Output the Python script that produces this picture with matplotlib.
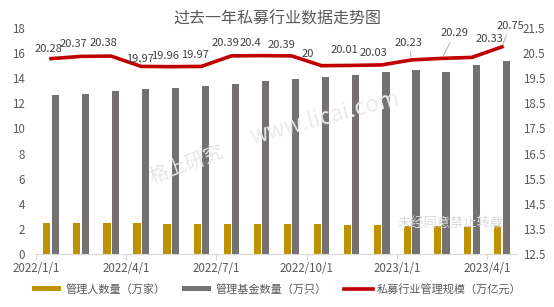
import matplotlib
matplotlib.use("Agg")
import matplotlib.pyplot as plt
from matplotlib.patches import Patch
from matplotlib.lines import Line2D

plt.rcParams['font.family'] = ['Noto Sans CJK SC', 'DejaVu Sans']

months = ["2022/1", "2022/2", "2022/3", "2022/4", "2022/5", "2022/6", "2022/7", "2022/8",
          "2022/9", "2022/10", "2022/11", "2022/12", "2023/1", "2023/2", "2023/3", "2023/4"]
tick_labels = ["2022/1/1", "2022/4/1", "2022/7/1", "2022/10/1", "2023/1/1", "2023/4/1"]
managers = [2.47, 2.46, 2.46, 2.45, 2.40, 2.40, 2.40, 2.39,
            2.38, 2.38, 2.31, 2.30, 2.24, 2.23, 2.23, 2.22]
funds = [12.67, 12.75, 13.00, 13.15, 13.23, 13.39, 13.55, 13.80,
         13.97, 14.10, 14.26, 14.53, 14.66, 14.50, 15.06, 15.38]
scale = [20.28, 20.37, 20.38, 19.97, 19.96, 19.97, 20.39, 20.4,
         20.39, 20.0, 20.01, 20.03, 20.23, 20.29, 20.33, 20.75]
scale_labels = ["20.28", "20.37", "20.38", "19.97", "19.96", "19.97", "20.39", "20.4",
                "20.39", "20", "20.01", "20.03", "20.23", "20.29", "20.33", "20.75"]

# label offsets in pixels (dx, dy) and whether a leader line is drawn
label_offsets = [(-3, 10), (-8, 12), (-8, 13), (-1, 7), (-6, 11), (-6, 11), (-6, 13), (-11, 13),
                 (-10, 11), (-14, 12), (-7, 15), (-8, 12), (-3, 17), (13, 25), (18, 18), (8, 21)]
leaders = [False, False, False, True, False, False, False, False,
           False, False, False, False, True, True, False, True]

GOLD = "#BF9000"
GRAY = "#767171"
RED = "#C00000"
TXT = "#595959"

fig = plt.figure(figsize=(5.54, 3.07), dpi=100)
ax = fig.add_axes([36/554, 53/307, 481/554, 226/307])
ax2 = ax.twinx()

x = list(range(len(months)))
w = 0.24
ax.bar([i - 0.14 for i in x], managers, width=w, color=GOLD, zorder=2)
ax.bar([i + 0.14 for i in x], funds, width=w, color=GRAY, zorder=2)
ax2.plot(x, scale, color=RED, lw=2.6, zorder=3, solid_joinstyle='round')

ax.set_xlim(-0.5, 15.5)
ax.set_ylim(0, 18)
ax.set_yticks(range(0, 19, 2))
ax2.set_ylim(12.5, 21.5)
ax2.set_yticks([12.5 + k for k in range(10)])
ax2.set_yticklabels([f"{12.5 + k:.1f}" for k in range(10)])

ax.set_xticks([-0.5 + 3 * k for k in range(6)])
ax.set_xticklabels(tick_labels)

for a in (ax, ax2):
    for s in a.spines.values():
        s.set_visible(False)
    a.tick_params(axis='y', length=0, labelsize=8.3, colors=TXT)
ax.spines['bottom'].set_visible(True)
ax.spines['bottom'].set_color("#D9D9D9")
ax.tick_params(axis='x', length=4, color="#D9D9D9", labelsize=8.3, labelcolor=TXT, pad=2)
ax.tick_params(axis='y', pad=8)
ax2.tick_params(axis='y', pad=4)

for i in x:
    dx, dy = label_offsets[i]
    kw = {}
    if leaders[i]:
        kw['arrowprops'] = dict(arrowstyle='-', color='#A6A6A6', lw=0.6, shrinkA=1, shrinkB=2)
    ax2.annotate(scale_labels[i], xy=(i, scale[i]), xytext=(dx, dy),
                 textcoords='offset pixels', ha='center', va='center',
                 fontsize=8, color="#404040", zorder=5, **kw)

fig.text(0.5, 1 - 19/307, "过去一年私募行业数据走势图", ha='center', va='center',
         fontsize=11.5, color=TXT)

# watermarks
fig.text(187/554, 1 - 165/307, "格上研究", ha='center', va='center', fontsize=14,
         color="#E6E6E6", rotation=20, zorder=0)
fig.text(325/554, 1 - 118/307, "www.licai.com", ha='center', va='center', fontsize=16,
         color="#EBEBEB", rotation=15, zorder=0)
fig.text(451/554, 1 - 223/307, "未经同意禁止转载", ha='center', va='center', fontsize=9.5,
         color="#D9D9D9", zorder=6)

handles = [Patch(facecolor=GOLD), Patch(facecolor=GRAY), Line2D([], [], color=RED, lw=2.6)]
labels = ["管理人数量（万家）", "管理基金数量（万只）", "私募行业管理规模（万亿元）"]
leg = fig.legend(handles, labels, loc='center', bbox_to_anchor=(0.5, 1 - 289/307), ncol=3,
                 frameon=False, fontsize=8, handlelength=2.6, handleheight=0.45,
                 columnspacing=1.5, handletextpad=0.4, labelcolor=TXT)

fig.savefig("out.png", dpi=100)
